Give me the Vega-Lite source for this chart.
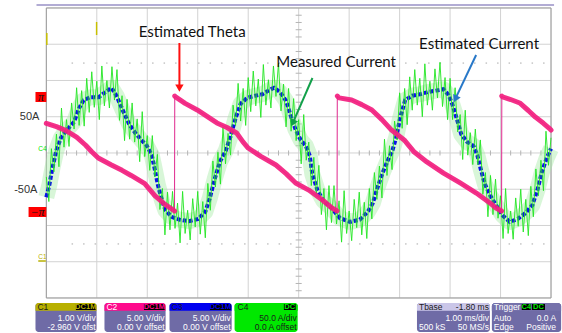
{
"$schema": "https://vega.github.io/schema/vega-lite/v6.json",
"width": 562, "height": 333,
"autosize": {"type": "fit", "contains": "padding"},
"padding": 0,
"background": "#ffffff",
"config": {"view": {"stroke": null}},
"datasets": {
"gv": [{"t":0},{"t":1},{"t":2},{"t":3},{"t":4},{"t":5},{"t":6},{"t":7},{"t":8},{"t":9},{"t":10}],
"gh": [{"a":-200},{"a":-150},{"a":-100},{"a":-50},{"a":0},{"a":50},{"a":100},{"a":150},{"a":200}],
"ct": [{"t":0.2},{"t":0.4},{"t":0.6},{"t":0.8},{"t":1.2},{"t":1.4},{"t":1.6},{"t":1.8},{"t":2.2},{"t":2.4},{"t":2.6},{"t":2.8},{"t":3.2},{"t":3.4},{"t":3.6},{"t":3.8},{"t":4.2},{"t":4.4},{"t":4.6},{"t":4.8},{"t":5.2},{"t":5.4},{"t":5.6},{"t":5.8},{"t":6.2},{"t":6.4},{"t":6.6},{"t":6.8},{"t":7.2},{"t":7.4},{"t":7.6},{"t":7.8},{"t":8.2},{"t":8.4},{"t":8.6},{"t":8.8},{"t":9.2},{"t":9.4},{"t":9.6},{"t":9.8}],
"ca": [{"a":-190},{"a":-180},{"a":-170},{"a":-160},{"a":-140},{"a":-130},{"a":-120},{"a":-110},{"a":-90},{"a":-80},{"a":-70},{"a":-60},{"a":-40},{"a":-30},{"a":-20},{"a":-10},{"a":10},{"a":20},{"a":30},{"a":40},{"a":60},{"a":70},{"a":80},{"a":90},{"a":110},{"a":120},{"a":130},{"a":140},{"a":160},{"a":170},{"a":180},{"a":190}],
"dots": [{"a":124},{"a":-125.5}],
"frame": [{"t":0,"t2":10,"a":-200,"a2":200}],
"topline": [{"t":-0.195,"t2":10.06,"a":204.1}],
"ymarks": [{"t":0.996,"a":180.7,"a2":162.7},{"t":0.01,"a":165.5,"a2":148.9}],
"theta": [
{"t":0,"th":1.65,"s":0},{"t":0.2,"th":1.47,"s":0},{"t":0.39,"th":1.25,"s":0},{"t":0.6,"th":0.9,"s":0},{"t":0.78,"th":0.45,"s":0},{"t":0.9,"th":0.1,"s":0},{"t":1.03,"th":-0.25,"s":0},{"t":1.29,"th":-0.63,"s":0},{"t":1.5,"th":-0.92,"s":0},{"t":1.68,"th":-1.2,"s":0},{"t":1.95,"th":-1.65,"s":0},{"t":2.15,"th":-2.3,"s":0},{"t":2.35,"th":-2.78,"s":0},{"t":2.5,"th":-3.06,"s":0},{"t":2.54,"th":-3.14,"s":0},
{"t":2.545,"th":3.14,"s":1},{"t":2.56,"th":3.09,"s":1},{"t":2.75,"th":2.74,"s":1},{"t":2.99,"th":2.38,"s":1},{"t":3.2,"th":2.0,"s":1},{"t":3.38,"th":1.67,"s":1},{"t":3.58,"th":1.42,"s":1},{"t":3.77,"th":1.12,"s":1},{"t":3.9,"th":0.62,"s":1},{"t":4.0,"th":0.3,"s":1},{"t":4.25,"th":-0.16,"s":1},{"t":4.55,"th":-0.63,"s":1},{"t":4.75,"th":-1.1,"s":1},{"t":4.94,"th":-1.61,"s":1},{"t":5.2,"th":-2.0,"s":1},{"t":5.47,"th":-2.54,"s":1},{"t":5.66,"th":-2.98,"s":1},{"t":5.76,"th":-3.14,"s":1},
{"t":5.765,"th":3.14,"s":2},{"t":5.8,"th":3.04,"s":2},{"t":6.05,"th":2.92,"s":2},{"t":6.25,"th":2.67,"s":2},{"t":6.45,"th":2.38,"s":2},{"t":6.65,"th":1.85,"s":2},{"t":6.84,"th":1.28,"s":2},{"t":7.09,"th":0.74,"s":2},{"t":7.29,"th":0.08,"s":2},{"t":7.54,"th":-0.46,"s":2},{"t":7.87,"th":-1.07,"s":2},{"t":8.2,"th":-1.61,"s":2},{"t":8.52,"th":-2.16,"s":2},{"t":8.79,"th":-2.7,"s":2},{"t":8.91,"th":-2.98,"s":2},{"t":9.02,"th":-3.14,"s":2},
{"t":9.025,"th":3.14,"s":3},{"t":9.04,"th":3.09,"s":3},{"t":9.2,"th":2.95,"s":3},{"t":9.38,"th":2.76,"s":3},{"t":9.55,"th":2.35,"s":3},{"t":9.69,"th":1.99,"s":3},{"t":9.85,"th":1.65,"s":3},{"t":9.96,"th":1.39,"s":3},{"t":10,"th":1.28,"s":3}
],
"est": [
{"t":0,"a":-61},{"t":0.06,"a":-44},{"t":0.12,"a":-21},{"t":0.2,"a":4},{"t":0.29,"a":21},{"t":0.41,"a":32},{"t":0.55,"a":43},{"t":0.65,"a":62},{"t":0.74,"a":73},{"t":0.88,"a":77},{"t":1.04,"a":77},{"t":1.17,"a":84},{"t":1.29,"a":90},{"t":1.39,"a":79},{"t":1.47,"a":66},{"t":1.54,"a":55},{"t":1.64,"a":40},{"t":1.76,"a":28},{"t":1.88,"a":18},{"t":1.99,"a":10},{"t":2.09,"a":-3},{"t":2.15,"a":-23},{"t":2.21,"a":-44},{"t":2.29,"a":-65},{"t":2.36,"a":-79},{"t":2.48,"a":-88},{"t":2.64,"a":-92},{"t":2.83,"a":-94},{"t":3.01,"a":-91},{"t":3.15,"a":-81},{"t":3.24,"a":-62},{"t":3.34,"a":-35},{"t":3.44,"a":-12},{"t":3.56,"a":4},{"t":3.65,"a":23},{"t":3.75,"a":48},{"t":3.85,"a":68},{"t":3.98,"a":76},{"t":4.14,"a":79},{"t":4.28,"a":81},{"t":4.4,"a":86},{"t":4.51,"a":90},{"t":4.63,"a":84},{"t":4.75,"a":72},{"t":4.84,"a":52},{"t":4.94,"a":32},{"t":5.04,"a":18},{"t":5.14,"a":10},{"t":5.22,"a":-4},{"t":5.27,"a":-29},{"t":5.37,"a":-51},{"t":5.49,"a":-66},{"t":5.65,"a":-76},{"t":5.82,"a":-90},{"t":6.02,"a":-95},{"t":6.21,"a":-92},{"t":6.37,"a":-81},{"t":6.47,"a":-69},{"t":6.56,"a":-48},{"t":6.66,"a":-28},{"t":6.76,"a":-11},{"t":6.86,"a":4},{"t":6.93,"a":21},{"t":7.01,"a":48},{"t":7.11,"a":73},{"t":7.25,"a":79},{"t":7.4,"a":81},{"t":7.56,"a":84},{"t":7.72,"a":86},{"t":7.87,"a":88},{"t":7.97,"a":80},{"t":8.05,"a":66},{"t":8.13,"a":48},{"t":8.22,"a":26},{"t":8.34,"a":15},{"t":8.46,"a":10},{"t":8.54,"a":-3},{"t":8.61,"a":-23},{"t":8.69,"a":-43},{"t":8.79,"a":-58},{"t":8.91,"a":-72},{"t":9.04,"a":-86},{"t":9.18,"a":-95},{"t":9.34,"a":-91},{"t":9.49,"a":-83},{"t":9.63,"a":-72},{"t":9.73,"a":-51},{"t":9.82,"a":-26},{"t":9.92,"a":-6},{"t":10,"a":6}
],
"meas": [
{"t":0,"a":-33},{"t":0.05,"a":-67},{"t":0.1,"a":6},{"t":0.15,"a":-26},{"t":0.2,"a":26},{"t":0.25,"a":-19},{"t":0.3,"a":62},{"t":0.35,"a":8},{"t":0.4,"a":46},{"t":0.45,"a":9},{"t":0.5,"a":69},{"t":0.55,"a":33},{"t":0.6,"a":90},{"t":0.65,"a":38},{"t":0.7,"a":86},{"t":0.75,"a":37},{"t":0.8,"a":103},{"t":0.85,"a":56},{"t":0.9,"a":112},{"t":0.95,"a":63},{"t":1,"a":99},{"t":1.05,"a":46},{"t":1.1,"a":120},{"t":1.15,"a":65},{"t":1.2,"a":100},{"t":1.25,"a":62},{"t":1.3,"a":119},{"t":1.35,"a":73},{"t":1.4,"a":115},{"t":1.45,"a":45},{"t":1.5,"a":79},{"t":1.55,"a":17},{"t":1.6,"a":74},{"t":1.65,"a":19},{"t":1.7,"a":69},{"t":1.75,"a":15},{"t":1.8,"a":47},{"t":1.85,"a":-12},{"t":1.9,"a":57},{"t":1.95,"a":-5},{"t":2,"a":24},{"t":2.05,"a":-24},{"t":2.1,"a":24},{"t":2.15,"a":-33},{"t":2.2,"a":-2},{"t":2.25,"a":-78},{"t":2.3,"a":-49},{"t":2.35,"a":-113},{"t":2.4,"a":-54},{"t":2.45,"a":-106},{"t":2.5,"a":-53},{"t":2.55,"a":-104},{"t":2.6,"a":-69},{"t":2.65,"a":-124},{"t":2.7,"a":-53},{"t":2.75,"a":-111},{"t":2.8,"a":-79},{"t":2.85,"a":-120},{"t":2.9,"a":-63},{"t":2.95,"a":-102},{"t":3,"a":-53},{"t":3.05,"a":-112},{"t":3.1,"a":-67},{"t":3.15,"a":-117},{"t":3.2,"a":-42},{"t":3.25,"a":-79},{"t":3.3,"a":-11},{"t":3.35,"a":-47},{"t":3.4,"a":1},{"t":3.45,"a":-43},{"t":3.5,"a":36},{"t":3.55,"a":-15},{"t":3.6,"a":27},{"t":3.65,"a":-3},{"t":3.7,"a":66},{"t":3.75,"a":38},{"t":3.8,"a":96},{"t":3.85,"a":44},{"t":3.9,"a":89},{"t":3.95,"a":38},{"t":4,"a":104},{"t":4.05,"a":57},{"t":4.1,"a":113},{"t":4.15,"a":65},{"t":4.2,"a":102},{"t":4.25,"a":49},{"t":4.3,"a":122},{"t":4.35,"a":66},{"t":4.4,"a":101},{"t":4.45,"a":62},{"t":4.5,"a":120},{"t":4.55,"a":78},{"t":4.6,"a":124},{"t":4.65,"a":58},{"t":4.7,"a":95},{"t":4.75,"a":36},{"t":4.8,"a":89},{"t":4.85,"a":30},{"t":4.9,"a":75},{"t":4.95,"a":17},{"t":5,"a":46},{"t":5.05,"a":-15},{"t":5.1,"a":53},{"t":5.15,"a":-10},{"t":5.2,"a":15},{"t":5.25,"a":-45},{"t":5.3,"a":-6},{"t":5.35,"a":-57},{"t":5.4,"a":-17},{"t":5.45,"a":-85},{"t":5.5,"a":-49},{"t":5.55,"a":-106},{"t":5.6,"a":-45},{"t":5.65,"a":-96},{"t":5.7,"a":-45},{"t":5.75,"a":-98},{"t":5.8,"a":-66},{"t":5.85,"a":-123},{"t":5.9,"a":-52},{"t":5.95,"a":-111},{"t":6,"a":-80},{"t":6.05,"a":-121},{"t":6.1,"a":-64},{"t":6.15,"a":-103},{"t":6.2,"a":-54},{"t":6.25,"a":-113},{"t":6.3,"a":-68},{"t":6.35,"a":-118},{"t":6.4,"a":-49},{"t":6.45,"a":-91},{"t":6.5,"a":-27},{"t":6.55,"a":-64},{"t":6.6,"a":-18},{"t":6.65,"a":-62},{"t":6.7,"a":19},{"t":6.75,"a":-31},{"t":6.8,"a":10},{"t":6.85,"a":-23},{"t":6.9,"a":44},{"t":6.95,"a":18},{"t":7,"a":83},{"t":7.05,"a":34},{"t":7.1,"a":89},{"t":7.15,"a":39},{"t":7.2,"a":105},{"t":7.25,"a":59},{"t":7.3,"a":115},{"t":7.35,"a":66},{"t":7.4,"a":103},{"t":7.45,"a":50},{"t":7.5,"a":123},{"t":7.55,"a":66},{"t":7.6,"a":99},{"t":7.65,"a":59},{"t":7.7,"a":116},{"t":7.75,"a":76},{"t":7.8,"a":125},{"t":7.85,"a":64},{"t":7.9,"a":104},{"t":7.95,"a":46},{"t":8,"a":103},{"t":8.05,"a":46},{"t":8.1,"a":90},{"t":8.15,"a":29},{"t":8.2,"a":53},{"t":8.25,"a":-9},{"t":8.3,"a":59},{"t":8.35,"a":-3},{"t":8.4,"a":28},{"t":8.45,"a":-16},{"t":8.5,"a":33},{"t":8.55,"a":-16},{"t":8.6,"a":18},{"t":8.65,"a":-57},{"t":8.7,"a":-27},{"t":8.75,"a":-88},{"t":8.8,"a":-31},{"t":8.85,"a":-85},{"t":8.9,"a":-36},{"t":8.95,"a":-90},{"t":9,"a":-59},{"t":9.05,"a":-118},{"t":9.1,"a":-49},{"t":9.15,"a":-111},{"t":9.2,"a":-80},{"t":9.25,"a":-119},{"t":9.3,"a":-62},{"t":9.35,"a":-101},{"t":9.4,"a":-50},{"t":9.45,"a":-109},{"t":9.5,"a":-64},{"t":9.55,"a":-114},{"t":9.6,"a":-46},{"t":9.65,"a":-88},{"t":9.7,"a":-22},{"t":9.75,"a":-59},{"t":9.8,"a":-10},{"t":9.85,"a":-52},{"t":9.9,"a":30},{"t":9.95,"a":-17},{"t":10,"a":21}
],
"notes": [{"t":2.891,"a":166.9,"s":"Estimated Theta"},{"t":5.742,"a":125.5,"s":"Measured Current"},{"t":8.574,"a":150.3,"s":"Estimated Current"}],
"arrows": [{"ar":"theta","t":2.637,"a":151.7,"t2":2.637,"a2":92},{"ar":"meas","t":5.273,"a":103.4,"t2":4.9,"a2":44},{"ar":"est","t":8.516,"a":135.1,"t2":8.12,"a2":77}],
"heads": [{"ar":"theta","t":2.637,"a":89.6},{"ar":"meas","t":4.883,"a":41.3},{"ar":"est","t":8.105,"a":74.4}],
"panels": [{"ch":"C1","t1":-0.215,"t2":0.996},{"ch":"C2","t1":1.152,"t2":2.363},{"ch":"C3","t1":2.441,"t2":3.672},{"ch":"C4","t1":3.73,"t2":4.98},{"ch":"Tbase","t1":7.344,"t2":8.789},{"ch":"Trigger","t1":8.828,"t2":10.2}],
"badges": [{"ch":"C1","t1":0.586,"t2":0.977,"tc":0.781,"s":"DC1M"},{"ch":"C2","t1":1.934,"t2":2.344,"tc":2.139,"s":"DC1M"},{"ch":"C3","t1":3.242,"t2":3.652,"tc":3.447,"s":"DC1M"},{"ch":"C4","t1":4.707,"t2":4.941,"tc":4.824,"s":"DC"},{"ch":"C4","t1":9.42,"t2":9.6,"tc":9.51,"s":"C4"},{"ch":"C4","t1":9.62,"t2":9.88,"tc":9.75,"s":"DC"}],
"labels": [
{"t":-0.176,"a":-212.4,"s":"C1","k":"kl"},{"t":1.191,"a":-212.4,"s":"C2","k":"wl"},{"t":2.48,"a":-212.4,"s":"C3","k":"kl"},{"t":3.789,"a":-212.4,"s":"C4","k":"kl"},{"t":7.383,"a":-212.4,"s":"Tbase","k":"kl"},{"t":8.77,"a":-212.4,"s":"-1.80 ms","k":"kr"},{"t":8.867,"a":-212.4,"s":"Trigger","k":"wl"},
{"t":0.977,"a":-227.6,"s":"1.00 V/div","k":"wr"},{"t":2.344,"a":-227.6,"s":"5.00 V/div","k":"wr"},{"t":3.652,"a":-227.6,"s":"5.00 V/div","k":"wr"},{"t":4.961,"a":-227.6,"s":"50.0 A/div","k":"kr"},{"t":8.77,"a":-227.6,"s":"1.00 ms/div","k":"wr"},{"t":8.867,"a":-227.6,"s":"Auto","k":"wl"},{"t":10.1,"a":-227.6,"s":"0.0 A","k":"wr"},
{"t":0.977,"a":-240.7,"s":"-2.960 V ofst","k":"wr"},{"t":2.344,"a":-240.7,"s":"0.00 V offset","k":"wr"},{"t":3.652,"a":-240.7,"s":"0.00 V offset","k":"wr"},{"t":4.961,"a":-240.7,"s":"0.0 A offset","k":"kr"},{"t":7.383,"a":-240.7,"s":"500 kS","k":"wl"},{"t":8.77,"a":-240.7,"s":"50 MS/s","k":"wr"},{"t":8.867,"a":-240.7,"s":"Edge","k":"wl"},{"t":10.1,"a":-240.7,"s":"Positive","k":"wr"}
],
"axlab": [{"t":-0.137,"a":49.7,"s":"50A"},{"t":-0.176,"a":-51,"s":"-50A"}],
"chlab": [{"t":-0.078,"a":5.5,"s":"C4","ch":"C4"},{"t":-0.078,"a":-143.4,"s":"C1","ch":"C1"}],
"c1line": [{"t":-0.16,"t2":-0.01,"a":-149}],
"pibox": [{"t":-0.215,"t2":0,"th":3.361,"th2":2.814,"tc":-0.107,"thc":3.087,"s":"π"},{"t":-0.352,"t2":0,"th":-2.924,"th2":-3.47,"tc":-0.176,"thc":-3.197,"s":"−π"}]
},
"layer": [
{
"layer": [
{"data":{"name":"gv"},"mark":{"type":"rule","color":"#d2d2d2","strokeWidth":1},
 "encoding":{"x":{"field":"t","type":"quantitative","scale":{"domain":[-0.918,10.059],"nice":false,"zero":false},"axis":null},
  "y":{"datum":-200,"type":"quantitative","scale":{"domain":[-248.3,211],"nice":false,"zero":false},"axis":null},"y2":{"datum":200}}},
{"data":{"name":"gh"},"mark":{"type":"rule","color":"#d2d2d2","strokeWidth":1},
 "encoding":{"y":{"field":"a","type":"quantitative","scale":{"domain":[-248.3,211],"nice":false,"zero":false},"axis":null},
  "x":{"datum":0,"type":"quantitative","scale":{"domain":[-0.918,10.059],"nice":false,"zero":false},"axis":null},"x2":{"datum":10}}},
{"data":{"name":"dots"},"mark":{"type":"rule","color":"#a8a8a8","strokeWidth":1,"strokeDash":[1.5,10]},
 "encoding":{"y":{"field":"a","type":"quantitative","scale":{"domain":[-248.3,211],"nice":false,"zero":false},"axis":null},
  "x":{"datum":0.5,"type":"quantitative","scale":{"domain":[-0.918,10.059],"nice":false,"zero":false},"axis":null},"x2":{"datum":10}}},
{"data":{"name":"ct"},"mark":{"type":"rule","color":"#b4b4b4","strokeWidth":1},
 "encoding":{"x":{"field":"t","type":"quantitative","scale":{"domain":[-0.918,10.059],"nice":false,"zero":false},"axis":null},
  "y":{"datum":-3.5,"type":"quantitative","scale":{"domain":[-248.3,211],"nice":false,"zero":false},"axis":null},"y2":{"datum":3.5}}},
{"data":{"name":"ca"},"mark":{"type":"rule","color":"#b4b4b4","strokeWidth":1},
 "encoding":{"y":{"field":"a","type":"quantitative","scale":{"domain":[-248.3,211],"nice":false,"zero":false},"axis":null},
  "x":{"datum":4.94,"type":"quantitative","scale":{"domain":[-0.918,10.059],"nice":false,"zero":false},"axis":null},"x2":{"datum":5.06}}},
{"data":{"name":"frame"},"mark":{"type":"rect","filled":false,"stroke":"#9c9c9c","strokeWidth":1},
 "encoding":{"x":{"field":"t","type":"quantitative","scale":{"domain":[-0.918,10.059],"nice":false,"zero":false},"axis":null},"x2":{"field":"t2"},
  "y":{"field":"a","type":"quantitative","scale":{"domain":[-248.3,211],"nice":false,"zero":false},"axis":null},"y2":{"field":"a2"}}},
{"data":{"name":"topline"},"mark":{"type":"rule","color":"#b2acd4","strokeWidth":2},
 "encoding":{"x":{"field":"t","type":"quantitative","scale":{"domain":[-0.918,10.059],"nice":false,"zero":false},"axis":null},"x2":{"field":"t2"},
  "y":{"field":"a","type":"quantitative","scale":{"domain":[-248.3,211],"nice":false,"zero":false},"axis":null}}},
{"data":{"name":"ymarks"},"mark":{"type":"rule","color":"#c8c000","strokeWidth":1.5},
 "encoding":{"x":{"field":"t","type":"quantitative","scale":{"domain":[-0.918,10.059],"nice":false,"zero":false},"axis":null},
  "y":{"field":"a","type":"quantitative","scale":{"domain":[-248.3,211],"nice":false,"zero":false},"axis":null},"y2":{"field":"a2"}}},
{"data":{"name":"est"},"mark":{"type":"line","color":"#a8eaa8","strokeWidth":16,"opacity":0.45,"strokeJoin":"round"},
 "encoding":{"x":{"field":"t","type":"quantitative","scale":{"domain":[-0.918,10.059],"nice":false,"zero":false},"axis":null},
  "y":{"field":"a","type":"quantitative","scale":{"domain":[-248.3,211],"nice":false,"zero":false},"axis":null}}},
{"data":{"name":"est"},"mark":{"type":"line","color":"#0a10e6","strokeWidth":4,"strokeDash":[4,2]},
 "encoding":{"x":{"field":"t","type":"quantitative","scale":{"domain":[-0.918,10.059],"nice":false,"zero":false},"axis":null},
  "y":{"field":"a","type":"quantitative","scale":{"domain":[-248.3,211],"nice":false,"zero":false},"axis":null}}},
{"data":{"name":"meas"},"mark":{"type":"line","color":"#22e622","strokeWidth":1,"opacity":0.9},
 "encoding":{"x":{"field":"t","type":"quantitative","scale":{"domain":[-0.918,10.059],"nice":false,"zero":false},"axis":null},
  "y":{"field":"a","type":"quantitative","scale":{"domain":[-248.3,211],"nice":false,"zero":false},"axis":null}}}
]
},
{
"layer": [
{"data":{"name":"theta"},"mark":{"type":"line","color":"#e0288e","strokeWidth":1},
 "encoding":{"x":{"field":"t","type":"quantitative","scale":{"domain":[-0.918,10.059],"nice":false,"zero":false},"axis":null},
  "y":{"field":"th","type":"quantitative","scale":{"domain":[-9.809,8.388],"nice":false,"zero":false},"axis":null}}},
{"data":{"name":"theta"},"mark":{"type":"line","color":"#f2207f","strokeWidth":5,"opacity":0.92,"strokeCap":"round","strokeJoin":"round"},
 "encoding":{"x":{"field":"t","type":"quantitative","scale":{"domain":[-0.918,10.059],"nice":false,"zero":false},"axis":null},
  "y":{"field":"th","type":"quantitative","scale":{"domain":[-9.809,8.388],"nice":false,"zero":false},"axis":null},
  "detail":{"field":"s","type":"nominal"}}},
{"data":{"name":"pibox"},"mark":{"type":"rect","color":"#ff0000"},
 "encoding":{"x":{"field":"t","type":"quantitative","scale":{"domain":[-0.918,10.059],"nice":false,"zero":false},"axis":null},"x2":{"field":"t2"},
  "y":{"field":"th","type":"quantitative","scale":{"domain":[-9.809,8.388],"nice":false,"zero":false},"axis":null},"y2":{"field":"th2"}}},
{"data":{"name":"pibox"},"mark":{"type":"text","color":"#111111","font":"Liberation Serif","fontStyle":"italic","fontSize":12,"align":"center","baseline":"middle"},
 "encoding":{"x":{"field":"tc","type":"quantitative","scale":{"domain":[-0.918,10.059],"nice":false,"zero":false},"axis":null},
  "y":{"field":"thc","type":"quantitative","scale":{"domain":[-9.809,8.388],"nice":false,"zero":false},"axis":null},
  "text":{"field":"s"}}}
]
},
{
"layer": [
{"data":{"name":"notes"},"mark":{"type":"text","color":"#111111","font":"Lato","fontSize":15,"align":"center","baseline":"middle"},
 "encoding":{"x":{"field":"t","type":"quantitative","scale":{"domain":[-0.918,10.059],"nice":false,"zero":false},"axis":null},
  "y":{"field":"a","type":"quantitative","scale":{"domain":[-248.3,211],"nice":false,"zero":false},"axis":null},
  "text":{"field":"s"}}},
{"data":{"name":"arrows"},"mark":{"type":"rule","strokeWidth":2},
 "encoding":{"x":{"field":"t","type":"quantitative","scale":{"domain":[-0.918,10.059],"nice":false,"zero":false},"axis":null},"x2":{"field":"t2"},
  "y":{"field":"a","type":"quantitative","scale":{"domain":[-248.3,211],"nice":false,"zero":false},"axis":null},"y2":{"field":"a2"},
  "stroke":{"field":"ar","type":"nominal","scale":{"domain":["theta","meas","est"],"range":["#ff1010","#12a04a","#2878c8"]},"legend":null}}},
{"data":{"name":"heads"},"transform":[{"filter":"datum.ar === 'theta'"}],"mark":{"type":"point","shape":"triangle-down","filled":true,"size":70,"color":"#ff1010","opacity":1},
 "encoding":{"x":{"field":"t","type":"quantitative","scale":{"domain":[-0.918,10.059],"nice":false,"zero":false},"axis":null},
  "y":{"field":"a","type":"quantitative","scale":{"domain":[-248.3,211],"nice":false,"zero":false},"axis":null}}},
{"data":{"name":"heads"},"transform":[{"filter":"datum.ar === 'meas'"}],"mark":{"type":"point","shape":"triangle-down","filled":true,"size":70,"angle":24,"color":"#12a04a","opacity":1},
 "encoding":{"x":{"field":"t","type":"quantitative","scale":{"domain":[-0.918,10.059],"nice":false,"zero":false},"axis":null},
  "y":{"field":"a","type":"quantitative","scale":{"domain":[-248.3,211],"nice":false,"zero":false},"axis":null}}},
{"data":{"name":"heads"},"transform":[{"filter":"datum.ar === 'est'"}],"mark":{"type":"point","shape":"triangle-down","filled":true,"size":70,"angle":25,"color":"#2878c8","opacity":1},
 "encoding":{"x":{"field":"t","type":"quantitative","scale":{"domain":[-0.918,10.059],"nice":false,"zero":false},"axis":null},
  "y":{"field":"a","type":"quantitative","scale":{"domain":[-248.3,211],"nice":false,"zero":false},"axis":null}}},
{"data":{"name":"panels"},"mark":{"type":"rect","cornerRadius":3},
 "encoding":{"x":{"field":"t1","type":"quantitative","scale":{"domain":[-0.918,10.059],"nice":false,"zero":false},"axis":null},"x2":{"field":"t2"},
  "y":{"datum":-206.9,"type":"quantitative","scale":{"domain":[-248.3,211],"nice":false,"zero":false},"axis":null},"y2":{"datum":-246.9},
  "fill":{"field":"ch","type":"nominal","scale":{"domain":["C1","C2","C3","C4","Tbase","Trigger"],"range":["#6f6ba6","#6f6ba6","#6f6ba6","#00e800","#6f6ba6","#6f6ba6"]},"legend":null}}},
{"data":{"name":"panels"},"mark":{"type":"rect","cornerRadiusTopLeft":3,"cornerRadiusTopRight":3},
 "encoding":{"x":{"field":"t1","type":"quantitative","scale":{"domain":[-0.918,10.059],"nice":false,"zero":false},"axis":null},"x2":{"field":"t2"},
  "y":{"datum":-206.9,"type":"quantitative","scale":{"domain":[-248.3,211],"nice":false,"zero":false},"axis":null},"y2":{"datum":-217.6},
  "color":{"field":"ch","type":"nominal","scale":{"domain":["C1","C2","C3","C4","Tbase","Trigger"],"range":["#b8b000","#ff0a8c","#0000f0","#00e800","#cac6e8","#7672ab"]},"legend":null}}},
{"data":{"name":"badges"},"mark":{"type":"rect","color":"#000000"},
 "encoding":{"x":{"field":"t1","type":"quantitative","scale":{"domain":[-0.918,10.059],"nice":false,"zero":false},"axis":null},"x2":{"field":"t2"},
  "y":{"datum":-208.3,"type":"quantitative","scale":{"domain":[-248.3,211],"nice":false,"zero":false},"axis":null},"y2":{"datum":-216.6}}},
{"data":{"name":"badges"},"mark":{"type":"text","font":"Liberation Sans","fontWeight":"bold","fontSize":7.5,"align":"center","baseline":"middle"},
 "encoding":{"x":{"field":"tc","type":"quantitative","scale":{"domain":[-0.918,10.059],"nice":false,"zero":false},"axis":null},
  "y":{"datum":-212.4,"type":"quantitative","scale":{"domain":[-248.3,211],"nice":false,"zero":false},"axis":null},
  "text":{"field":"s"},
  "color":{"field":"ch","type":"nominal","scale":{"domain":["C1","C2","C3","C4","Tbase","Trigger"],"range":["#b8b000","#ff0a8c","#0000f0","#00e800","#cac6e8","#7672ab"]},"legend":null}}},
{"data":{"name":"labels"},"transform":[{"filter":"datum.k === 'wr'"}],"mark":{"type":"text","font":"Liberation Sans","fontSize":8.5,"align":"right","baseline":"middle","color":"#ffffff"},
 "encoding":{"x":{"field":"t","type":"quantitative","scale":{"domain":[-0.918,10.059],"nice":false,"zero":false},"axis":null},
  "y":{"field":"a","type":"quantitative","scale":{"domain":[-248.3,211],"nice":false,"zero":false},"axis":null},"text":{"field":"s"}}},
{"data":{"name":"labels"},"transform":[{"filter":"datum.k === 'wl'"}],"mark":{"type":"text","font":"Liberation Sans","fontSize":8.5,"align":"left","baseline":"middle","color":"#ffffff"},
 "encoding":{"x":{"field":"t","type":"quantitative","scale":{"domain":[-0.918,10.059],"nice":false,"zero":false},"axis":null},
  "y":{"field":"a","type":"quantitative","scale":{"domain":[-248.3,211],"nice":false,"zero":false},"axis":null},"text":{"field":"s"}}},
{"data":{"name":"labels"},"transform":[{"filter":"datum.k === 'kr'"}],"mark":{"type":"text","font":"Liberation Sans","fontSize":8.5,"align":"right","baseline":"middle","color":"#1a1a1a"},
 "encoding":{"x":{"field":"t","type":"quantitative","scale":{"domain":[-0.918,10.059],"nice":false,"zero":false},"axis":null},
  "y":{"field":"a","type":"quantitative","scale":{"domain":[-248.3,211],"nice":false,"zero":false},"axis":null},"text":{"field":"s"}}},
{"data":{"name":"labels"},"transform":[{"filter":"datum.k === 'kl'"}],"mark":{"type":"text","font":"Liberation Sans","fontSize":8.5,"align":"left","baseline":"middle","color":"#1a1a1a"},
 "encoding":{"x":{"field":"t","type":"quantitative","scale":{"domain":[-0.918,10.059],"nice":false,"zero":false},"axis":null},
  "y":{"field":"a","type":"quantitative","scale":{"domain":[-248.3,211],"nice":false,"zero":false},"axis":null},"text":{"field":"s"}}},
{"data":{"name":"axlab"},"mark":{"type":"text","font":"Liberation Sans","fontSize":11,"align":"right","baseline":"middle","color":"#333333"},
 "encoding":{"x":{"field":"t","type":"quantitative","scale":{"domain":[-0.918,10.059],"nice":false,"zero":false},"axis":null},
  "y":{"field":"a","type":"quantitative","scale":{"domain":[-248.3,211],"nice":false,"zero":false},"axis":null},"text":{"field":"s"}}},
{"data":{"name":"chlab"},"mark":{"type":"text","font":"Liberation Sans","fontSize":6.5,"align":"center","baseline":"middle"},
 "encoding":{"x":{"field":"t","type":"quantitative","scale":{"domain":[-0.918,10.059],"nice":false,"zero":false},"axis":null},
  "y":{"field":"a","type":"quantitative","scale":{"domain":[-248.3,211],"nice":false,"zero":false},"axis":null},"text":{"field":"s"},
  "color":{"field":"ch","type":"nominal","scale":{"domain":["C1","C2","C3","C4","Tbase","Trigger"],"range":["#b8b000","#ff0a8c","#0000f0","#00e800","#cac6e8","#7672ab"]},"legend":null}}},
{"data":{"name":"c1line"},"mark":{"type":"rule","color":"#b8b000","strokeWidth":1.5},
 "encoding":{"x":{"field":"t","type":"quantitative","scale":{"domain":[-0.918,10.059],"nice":false,"zero":false},"axis":null},"x2":{"field":"t2"},
  "y":{"field":"a","type":"quantitative","scale":{"domain":[-248.3,211],"nice":false,"zero":false},"axis":null}}}
]
}
],
"resolve": {"scale": {"y": "independent"}}
}
